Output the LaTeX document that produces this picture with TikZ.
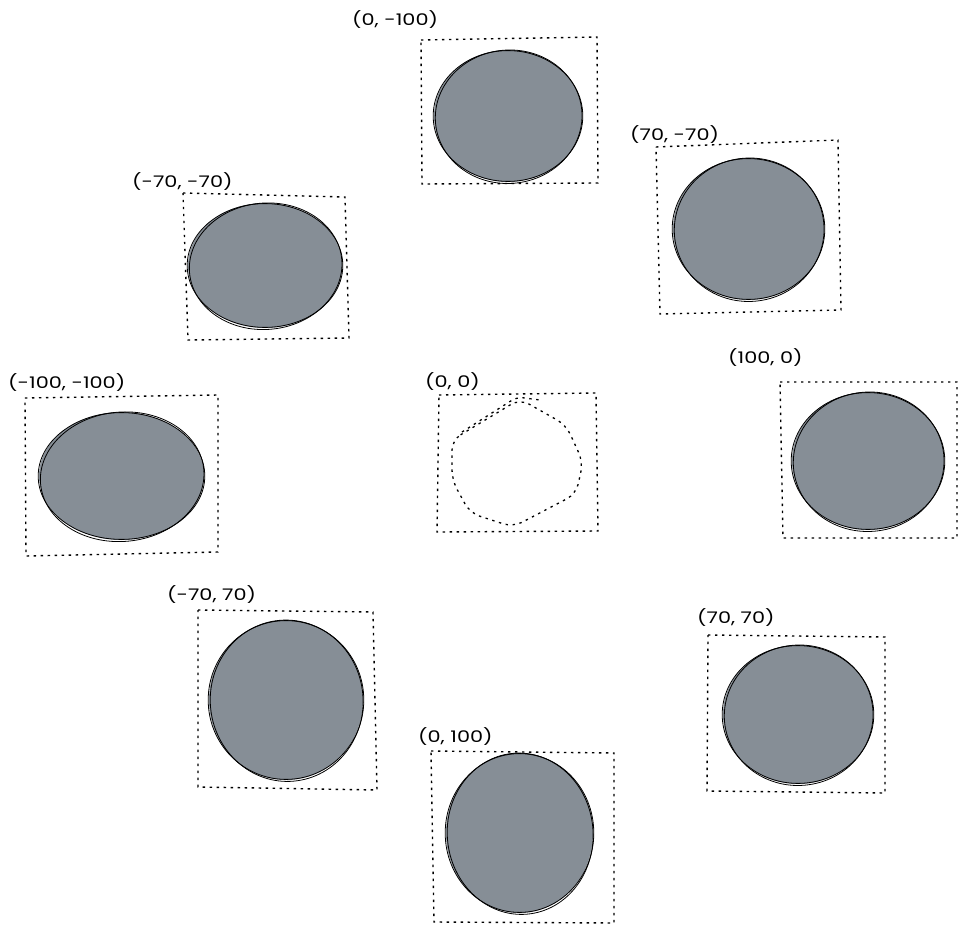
\documentclass[tikz,border=0pt]{standalone}
\usepackage{fontspec}
\setmainfont{Poppins}
\usepackage{graphicx}
\definecolor{gfill}{HTML}{868E96}
\tikzset{
  boxline/.style={draw=black, line width=1.4pt, dash pattern=on 2.4pt off 4.6pt},
  rstroke/.style={draw=black, line width=0.8pt},
  lbl/.style={anchor=west, inner sep=0pt, font=\fontsize{16}{16}\selectfont},
}
\newcommand\rcirc[4]{%
  \fill[gfill] (#1,#2) ellipse [x radius=#3, y radius=#4];
  \draw[rstroke] (#1,#2) ellipse [x radius=#3+0.8, y radius=#4-0.6];
  \draw[rstroke, rotate around={5:(#1,#2)}] (#1+0.6,#2+0.8) ellipse [x radius=#3-0.6, y radius=#4+0.7];
}
\newcommand\wide[1]{\scalebox{1.3}[1]{#1}}
\begin{document}
\begin{tikzpicture}[x=1pt,y=-1pt]
\useasboundingbox (0,0) rectangle (967,931);

% (0,-100)
\node[lbl] (l1) at (352,20) {\wide{(0, -100)}};
\draw[boxline] (421,40) -- (597,37) -- (598,183) -- (422,184) -- cycle;
\rcirc{508}{116}{74}{66}

% (70,-70)
\node[lbl] (l2) at (630,135) {\wide{(70, -70)}};
\draw[boxline] (656,147) -- (838,140) -- (841,310) -- (660,314) -- cycle;
\rcirc{748.5}{229}{75.5}{71}

% (-70,-70)
\node[lbl] (l3) at (132,182) {\wide{(-70, -70)}};
\draw[boxline] (183,193) -- (345,197) -- (349,338) -- (188,340) -- cycle;
\rcirc{265}{265.5}{77}{62.5}

% (-100,-100)
\node[lbl] (l4) at (8,383) {\wide{(-100, -100)}};
\draw[boxline] (25,398) -- (218,395) -- (218,552) -- (26,556) -- cycle;
\rcirc{121.5}{476}{82.5}{64}

% (0,0)
\node[lbl] (l5) at (425,382) {\wide{(0, 0)}};
\draw[boxline] (439,395) -- (596,393) -- (598,531) -- (437,532) -- cycle;
\draw[boxline, line width=1.3pt, rounded corners=10pt] (452,440) -- (520,399) -- (566,425) -- (583,462) -- (576,494) -- (513,527) -- (470,513) -- (452,480) -- cycle;
\draw[boxline, line width=1.3pt, rounded corners=6pt] (462,432) -- (517,397) -- (540,400);

% (100,0)
\node[lbl] (l6) at (728,358) {\wide{(100, 0)}};
\draw[boxline] (780,382) -- (957,382) -- (957,538) -- (783,538) -- cycle;
\rcirc{868}{461}{76}{69}

% (-70,70)
\node[lbl] (l7) at (167,595) {\wide{(-70, 70)}};
\draw[boxline] (198,610) -- (373,612) -- (377,790) -- (198,787) -- cycle;
\rcirc{286}{700}{77}{80}

% (70,70)
\node[lbl] (l8) at (697,618) {\wide{(70, 70)}};
\draw[boxline] (708,635) -- (885,637) -- (885,793) -- (707,791) -- cycle;
\rcirc{798}{714.5}{75}{69.5}

% (0,100)
\node[lbl] (l9) at (418,737) {\wide{(0, 100)}};
\draw[boxline] (431,751) -- (614,753) -- (614,923) -- (434,922) -- cycle;
\rcirc{519.5}{833}{73.5}{80}
\end{tikzpicture}
\end{document}
